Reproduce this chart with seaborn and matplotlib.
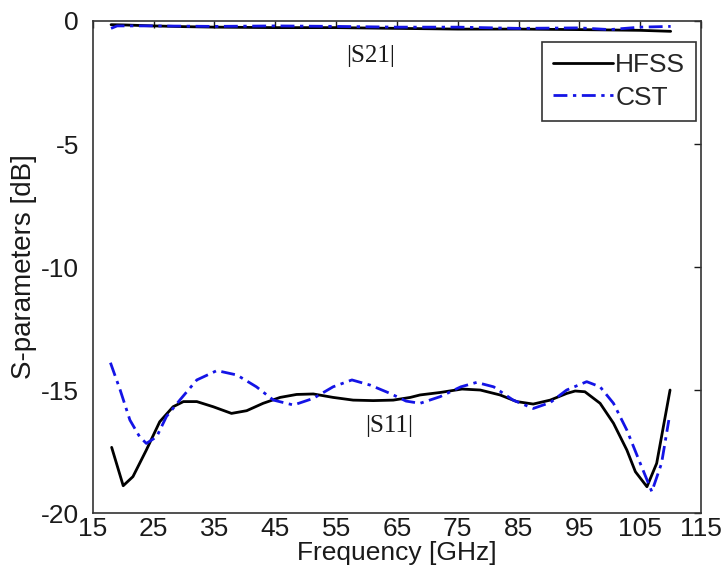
import matplotlib
matplotlib.use("Agg")
import matplotlib.pyplot as plt
import seaborn as sns

# |S11| traces
s11_hfss_f = [18.1, 20.0, 21.6, 23.8, 26.0, 28.2, 29.9, 32.1, 34.8, 37.8, 40.3, 43.0,
              45.8, 48.5, 51.25, 54.5, 57.8, 61.1, 64.4, 67.2, 68.8, 72.1, 75.7, 78.7,
              81.95, 84.7, 87.4, 90.2, 92.9, 94.3, 95.9, 98.4, 100.6, 102.8, 104.2,
              106.1, 107.7, 109.9]
s11_hfss_db = [-17.33, -18.89, -18.52, -17.44, -16.29, -15.68, -15.47, -15.47, -15.68,
               -15.95, -15.84, -15.54, -15.30, -15.18, -15.16, -15.30, -15.41, -15.43,
               -15.41, -15.30, -15.20, -15.10, -14.96, -15.00, -15.20, -15.47, -15.57,
               -15.41, -15.14, -15.04, -15.07, -15.54, -16.35, -17.44, -18.32, -18.93,
               -17.98, -15.00]

s11_cst_f = [17.9, 19.5, 21.1, 22.7, 23.8, 25.5, 27.1, 29.3, 32.1, 35.4, 38.7, 41.9,
             44.7, 48.0, 51.25, 54.5, 57.6, 60.6, 63.9, 66.5, 68.8, 72.1, 75.5, 78.1,
             80.9, 84.1, 87.4, 90.2, 92.9, 96.2, 98.4, 100.6, 102.8, 105.0, 106.9,
             108.5, 109.7]
s11_cst_db = [-13.89, -15.00, -16.22, -16.90, -17.17, -16.90, -16.08, -15.41, -14.59,
              -14.21, -14.39, -14.87, -15.41, -15.61, -15.34, -14.87, -14.59, -14.80,
              -15.14, -15.45, -15.54, -15.27, -14.87, -14.69, -14.87, -15.41, -15.75,
              -15.51, -15.00, -14.66, -14.87, -15.54, -16.63, -17.98, -19.13, -17.98,
              -16.22]

# |S21| traces
s21_hfss_f = [18, 20, 25, 30, 35, 45, 55, 65, 75, 85, 95, 105, 110]
s21_hfss_db = [-0.15, -0.16, -0.20, -0.23, -0.25, -0.27, -0.27, -0.30, -0.33, -0.33,
               -0.35, -0.38, -0.42]
s21_cst_f = [18, 19, 25, 30, 35, 45, 55, 65, 75, 85, 95, 100, 105, 110]
s21_cst_db = [-0.30, -0.20, -0.20, -0.21, -0.22, -0.20, -0.22, -0.25, -0.25, -0.30,
              -0.28, -0.35, -0.25, -0.22]

x_ticks = [15, 25, 35, 45, 55, 65, 75, 85, 95, 105, 115]
y_ticks = [0, -5, -10, -15, -20]

sns.set_style("white")
plt.rcParams["font.family"] = ["Liberation Sans", "DejaVu Sans"]

fig = plt.figure(figsize=(7.25, 5.83), dpi=100)
ax = fig.add_axes([0.128, 0.120, 0.839, 0.844])

black = "#000000"
blue = "#1414e6"
dashdot = (0, (5, 2, 1.2, 2))

sns.lineplot(x=s11_hfss_f, y=s11_hfss_db, ax=ax, color=black, lw=2.0, label="HFSS",
             sort=False, estimator=None)
sns.lineplot(x=s11_cst_f, y=s11_cst_db, ax=ax, color=blue, lw=2.0, label="CST",
             sort=False, estimator=None, linestyle=dashdot)
sns.lineplot(x=s21_hfss_f, y=s21_hfss_db, ax=ax, color=black, lw=2.0,
             sort=False, estimator=None)
sns.lineplot(x=s21_cst_f, y=s21_cst_db, ax=ax, color=blue, lw=2.0,
             sort=False, estimator=None, linestyle=dashdot)

ax.set_xlim(15, 115)
ax.set_ylim(-20, 0)
ax.set_xticks(x_ticks)
ax.set_yticks(y_ticks)
ax.set_xticklabels([str(t) for t in x_ticks])
ax.set_yticklabels([str(t) for t in y_ticks])
ax.tick_params(direction="in", top=True, right=True, length=5, width=1,
               labelsize=19, colors="#1a1a1a")
ax.tick_params(axis="x", pad=3)
ax.tick_params(axis="y", pad=10)
for s in ax.spines.values():
    s.set_color("#333333")
    s.set_linewidth(1.2)

ax.set_xlabel("Frequency [GHz]", fontsize=19, labelpad=0, color="#1a1a1a")
ax.set_ylabel("S-parameters [dB]", fontsize=20, labelpad=3, color="#1a1a1a")

ax.text(60.7, -1.42, "|S21|", fontsize=18, family="Liberation Serif", ha="center",
        va="center", color="#1a1a1a")
ax.text(63.7, -16.46, "|S11|", fontsize=18, family="Liberation Serif", ha="center",
        va="center", color="#1a1a1a")

leg = ax.legend(loc="upper right", bbox_to_anchor=(0.992, 0.957), fontsize=19,
                frameon=True, fancybox=False, handlelength=2.27, handletextpad=0.08,
                borderpad=0.42, labelspacing=0.32, borderaxespad=0.0)
leg.get_frame().set_edgecolor("#333333")
leg.get_frame().set_linewidth(1.2)
leg.get_frame().set_alpha(1)

fig.savefig("out.png", dpi=100, facecolor="white")
